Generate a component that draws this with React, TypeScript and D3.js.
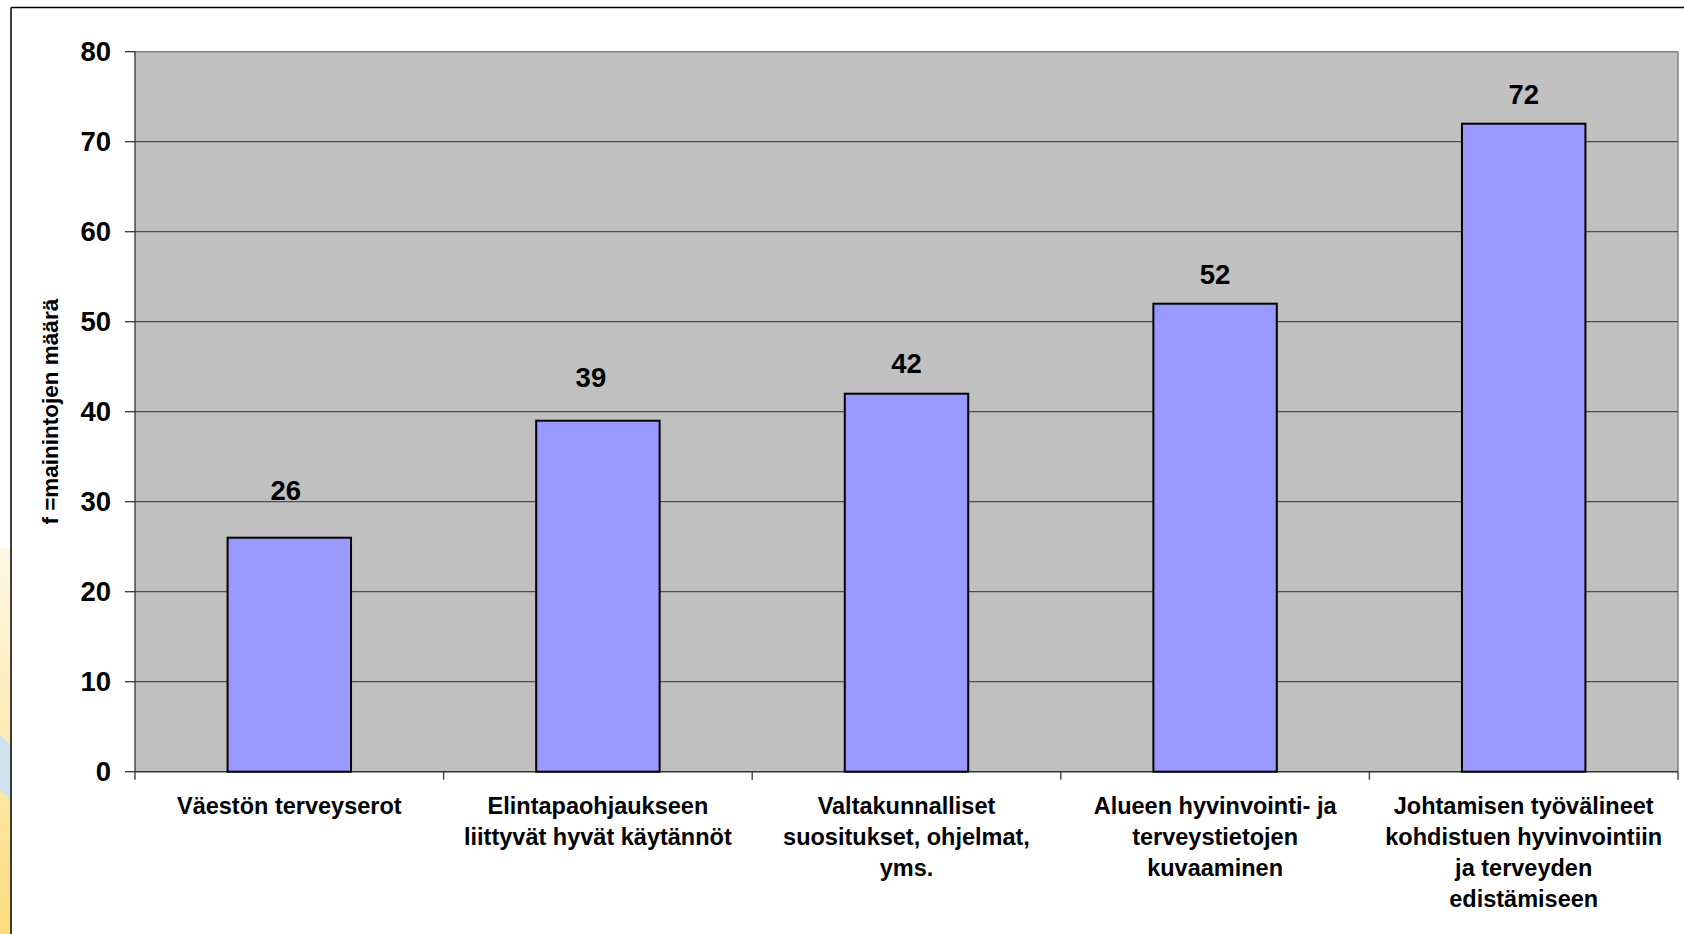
import { scaleBand, scaleLinear } from 'd3';

const categories = [
  ['Väestön terveyserot'],
  ['Elintapaohjaukseen', 'liittyvät hyvät käytännöt'],
  ['Valtakunnalliset', 'suositukset, ohjelmat,', 'yms.'],
  ['Alueen hyvinvointi- ja', 'terveystietojen', 'kuvaaminen'],
  ['Johtamisen työvälineet', 'kohdistuen hyvinvointiin', 'ja terveyden', 'edistämiseen'],
];
const mentions = [26, 39, 42, 52, 72];
const yTicks = [0, 10, 20, 30, 40, 50, 60, 70, 80];
const yTitle = 'f =mainintojen määrä';

const width = 1684;
const height = 934;
const margin = { top: 51.7, right: 6, bottom: 162.3, left: 135 };
const font = '"Liberation Sans", Arial, sans-serif';

// the first two value labels sit a bit higher / left, to stay clear of the gridlines
const labelNudge = [
  { dx: -3.5, dy: 38 },
  { dx: -7, dy: 34 },
  { dx: 0, dy: 20.5 },
  { dx: 0, dy: 20 },
  { dx: 0, dy: 20 },
];

export default function App() {
  const keys = categories.map(lines => lines.join(' '));
  const x = scaleBand<string>()
    .domain(keys)
    .range([margin.left, width - margin.right])
    .paddingInner(0.6)
    .paddingOuter(0.3);
  const y = scaleLinear()
    .domain([0, 80])
    .range([height - margin.bottom, margin.top]);

  const left = margin.left;
  const right = width - margin.right;
  const top = y(80);
  const bottom = y(0);
  const step = x.step();

  return (
    <svg
      width={width}
      height={height}
      viewBox={`0 0 ${width} ${height}`}
      style={{ position: 'absolute', left: 0, top: 0, background: '#ffffff' }}
      fontFamily={font}
    >
      <defs>
        <linearGradient id="side-deco" x1="0" x2="0" y1="0" y2="1">
          <stop offset="0%" stopColor="#fff8e6" />
          <stop offset="100%" stopColor="#fddc7e" />
        </linearGradient>
      </defs>

      {/* slide background peeking out on the left */}
      <rect x={0} y={548} width={11} height={height - 548} fill="url(#side-deco)" />
      <path d="M0 735 L11 745 L11 800 L0 790 Z" fill="#cfe3ee" />

      {/* outer frame */}
      <line x1={11} x2={width} y1={7.5} y2={7.5} stroke="#000" strokeWidth={1.5} />
      <line x1={11} x2={11} y1={7.5} y2={height} stroke="#000" strokeWidth={1.5} />

      {/* plot area */}
      <rect x={left} y={top} width={right - left} height={bottom - top} fill="#c0c0c0" />
      <line x1={left} x2={right} y1={top} y2={top} stroke="#808080" strokeWidth={1.5} />
      <line x1={right} x2={right} y1={top} y2={bottom} stroke="#808080" strokeWidth={1.5} />

      {yTicks.map(tick => (
        <g key={tick}>
          {tick > 0 && tick < 80 && (
            <line x1={left} x2={right} y1={y(tick)} y2={y(tick)} stroke="#4d4d4d" strokeWidth={1.3} />
          )}
          <line x1={left - 10} x2={left} y1={y(tick)} y2={y(tick)} stroke="#333" strokeWidth={1.3} />
          <text x={left - 24} y={y(tick) + 9.5} textAnchor="end" fontSize={27.5} fontWeight="bold" fill="#000">
            {tick}
          </text>
        </g>
      ))}

      {/* axes */}
      <line x1={left} x2={left} y1={top} y2={bottom + 8} stroke="#333" strokeWidth={1.3} />
      <line x1={left} x2={right} y1={bottom} y2={bottom} stroke="#333" strokeWidth={1.5} />
      {keys.map((key, i) => {
        const bx = (x(key) ?? 0) - (step - x.bandwidth()) / 2 + step;
        return <line key={`t${i}`} x1={bx} x2={bx} y1={bottom} y2={bottom + 8} stroke="#333" strokeWidth={1.3} />;
      })}

      {keys.map((key, i) => {
        const bx = x(key) ?? 0;
        const cx = bx + x.bandwidth() / 2;
        return (
          <g key={key}>
            <rect
              x={bx}
              y={y(mentions[i])}
              width={x.bandwidth()}
              height={bottom - y(mentions[i])}
              fill="#9999ff"
              stroke="#000"
              strokeWidth={2}
            />
            <text
              x={cx + labelNudge[i].dx}
              y={y(mentions[i]) - labelNudge[i].dy}
              textAnchor="middle"
              fontSize={27.5}
              fontWeight="bold"
              fill="#000"
            >
              {mentions[i]}
            </text>
            {categories[i].map((lineText, li) => (
              <text
                key={li}
                x={cx}
                y={bottom + 42 + li * 31}
                textAnchor="middle"
                fontSize={23.5}
                fontWeight="bold"
                fill="#000"
              >
                {lineText}
              </text>
            ))}
          </g>
        );
      })}

      <text
        transform={`translate(58, ${(top + bottom) / 2}) rotate(-90)`}
        textAnchor="middle"
        fontSize={22.5}
        fontWeight="bold"
        fill="#000"
      >
        {yTitle}
      </text>
    </svg>
  );
}
